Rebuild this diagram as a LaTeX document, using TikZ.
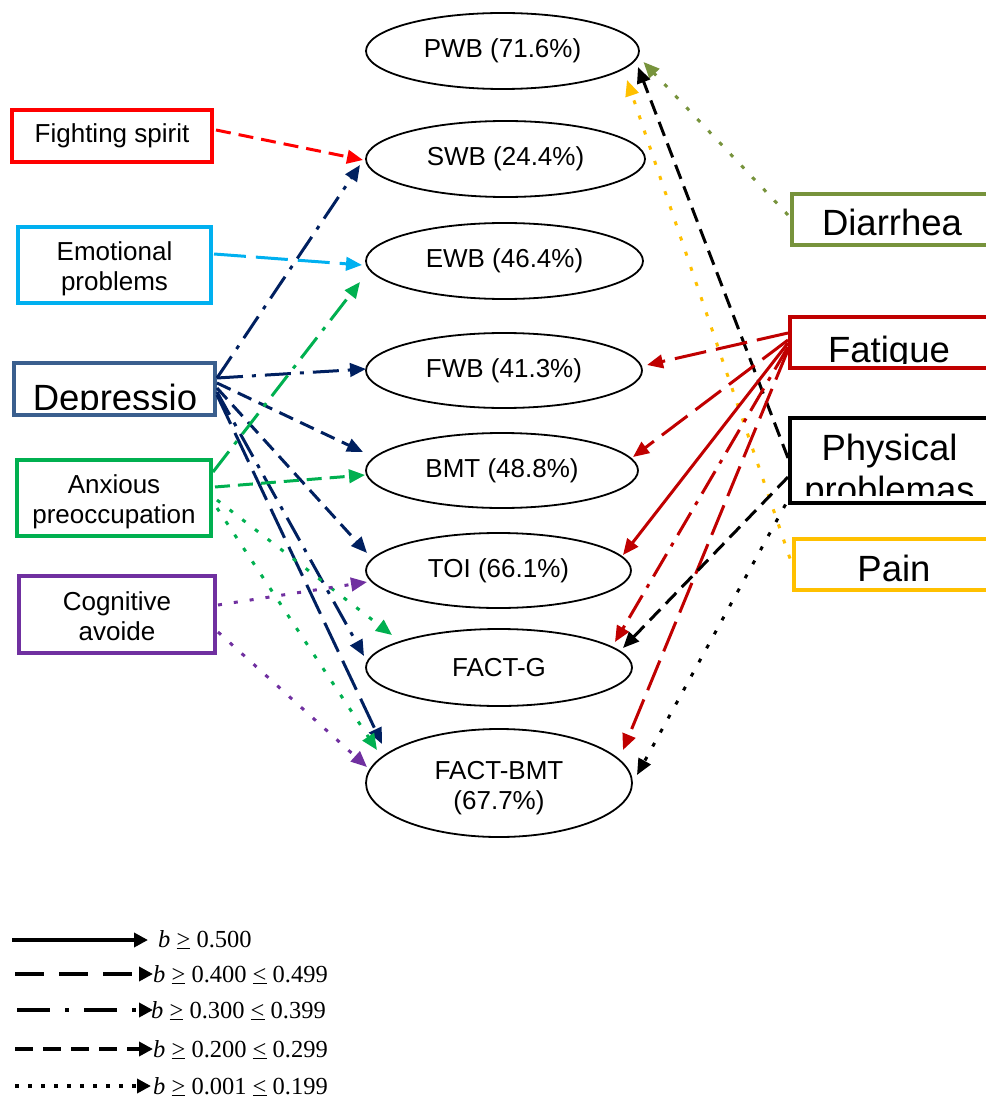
\documentclass[tikz,border=0pt]{standalone}
\usepackage{fontspec}
\setmainfont{Liberation Sans}
\newfontfamily\legendfont{Liberation Serif}
\usetikzlibrary{arrows.meta,calc,shapes.geometric}
\definecolor{cRed}{HTML}{FF0000}
\definecolor{cCyan}{HTML}{00B0F0}
\definecolor{cDepBox}{HTML}{3A5F8E}
\definecolor{cNavy}{HTML}{002060}
\definecolor{cGreen}{HTML}{00B050}
\definecolor{cPurple}{HTML}{7030A0}
\definecolor{cOlive}{HTML}{77933C}
\definecolor{cDarkRed}{HTML}{C00000}
\definecolor{cGold}{HTML}{FFC000}
\newcommand{\smallfnt}{\fontsize{26}{30}\selectfont}
\newcommand{\bigfnt}{\fontsize{36.5}{42}\selectfont}
\newcommand{\myge}{\underline{>}}
\newcommand{\myle}{\underline{<}}
\tikzset{
  ell/.style={draw, line width=1.8pt, ellipse, inner sep=0pt, font=\smallfnt, align=center},
  box/.style={draw, line width=4.5pt, rectangle, inner sep=0pt, font=\smallfnt, align=center},
  boxtext/.style={anchor=base, inner sep=0pt, font=\smallfnt},
  con/.style={line width=3pt, -{Triangle[length=16pt,width=13.5pt]}},
  pdot/.style={dash pattern=on 4pt off 12pt},
  pdash/.style={dash pattern=on 15pt off 8pt},
  pdashdot/.style={dash pattern=on 26pt off 9pt on 4pt off 9pt},
  plong/.style={dash pattern=on 32pt off 10pt},
  legline/.style={line width=4pt, -{Triangle[length=14pt,width=14pt]}},
  legtext/.style={anchor=base west, inner sep=0pt, font=\legendfont\fontsize{24.5}{28}\selectfont},
}
\begin{document}
\begin{tikzpicture}[x=1pt,y=-1pt]
\useasboundingbox (0,0) rectangle (985,1099);

% ellipses
\node[ell, minimum width=273pt, minimum height=76pt] (pwb) at (502.5,51) {PWB (71.6\%)};
\node[ell, minimum width=279pt, minimum height=76pt] (swb) at (505.5,159) {SWB (24.4\%)};
\node[ell, minimum width=277pt, minimum height=76pt] (ewb) at (504.5,261) {EWB (46.4\%)};
\node[ell, minimum width=276pt, minimum height=75pt] (fwb) at (504,370.5) {FWB (41.3\%)};
\node[ell, minimum width=272pt, minimum height=75pt] (bmt) at (502,470.5) {BMT (48.8\%)};
\node[ell, minimum width=265pt, minimum height=75pt] (toi) at (498.5,570.5) {TOI (66.1\%)};
\node[ell, minimum width=266pt, minimum height=77pt] (fg) at (499,667.5) {FACT-G};
\node[ell, minimum width=266pt, minimum height=108pt] (fbmt) at (499,783) {};
\node[boxtext] (fbmt1) at (499,779) {FACT-BMT};
\node[boxtext] (fbmt2) at (499,809) {(67.7\%)};

% left boxes
\node[box, draw=cRed, minimum width=200pt, minimum height=52pt] (fs) at (112,136) {Fighting spirit};
\node[box, draw=cCyan, minimum width=193pt, minimum height=76pt] (ep) at (114.5,265) {};
\node[boxtext] (ept1) at (114.5,260) {Emotional};
\node[boxtext] (ept2) at (114.5,290) {problems};
\node[box, draw=cDepBox, minimum width=201pt, minimum height=52pt] (dep) at (114.5,389) {};
\begin{scope}
  \clip (dep.north west) rectangle ($(dep.south east)+(0,-8)$);
  \node[anchor=base, inner sep=0pt, font=\bigfnt] (deptxt) at ($(dep.south)+(0.5,-7)$) {Depressio};
\end{scope}
\node[box, draw=cGreen, minimum width=194pt, minimum height=76pt] (anx) at (114,498) {};
\node[boxtext] (anxt1) at (114,493) {Anxious};
\node[boxtext] (anxt2) at (114,523) {preoccupation};
\node[box, draw=cPurple, minimum width=196pt, minimum height=77pt] (cog) at (117,614.5) {};
\node[boxtext] (cogt1) at (117,610) {Cognitive};
\node[boxtext] (cogt2) at (117,640) {avoide};

% right boxes
\node[box, draw=cOlive, minimum width=200pt, minimum height=51pt] (dia) at (892,219.5) {};
\node[anchor=base, inner sep=0pt, font=\bigfnt] (diatxt) at (892,236) {Diarrhea};
\node[box, draw=cDarkRed, minimum width=198pt, minimum height=51pt] (fat) at (889,342.5) {};
\begin{scope}
  \clip (fat.north west) rectangle ($(fat.south east)+(0,-6.5)$);
  \node[anchor=base, inner sep=0pt, font=\bigfnt] (fattxt) at (889,362.5) {Fatigue};
\end{scope}
\node[box, draw=black, minimum width=199pt, minimum height=85pt] (phy) at (889.5,460.5) {};
\begin{scope}
  \clip (phy.north west) rectangle ($(phy.south east)+(0,-10)$);
  \node[anchor=base, inner sep=0pt, font=\bigfnt] (phytxt1) at (889.5,460) {Physical};
  \node[anchor=base, inner sep=0pt, font=\bigfnt] (phytxt2) at (889.5,502) {problemas};
\end{scope}
\node[box, draw=cGold, minimum width=200pt, minimum height=51pt] (pain) at (894,564.5) {};
\node[anchor=base, inner sep=0pt, font=\bigfnt] (paintxt) at (894,581) {Pain};

% left connectors
\draw[con, cRed, pdash] ($(fs)+(104,-6)$) -- ($(swb)+(-142.5,1)$);
\draw[con, cCyan, plong] ($(ep)+(99.5,-11)$) -- ($(ewb)+(-142.5,4)$);
\draw[con, cNavy, pdashdot] ($(dep)+(102.5,-11)$) -- ($(swb)+(-145.5,6)$);
\draw[con, cNavy, pdashdot] ($(dep)+(102.5,-11)$) -- ($(fwb)+(-138,-1.5)$);
\draw[con, cNavy, pdash] ($(dep)+(102.5,-6)$) -- ($(bmt)+(-139,-18.5)$);
\draw[con, cNavy, pdash] ($(dep)+(102.5,-1)$) -- ($(toi)+(-131.5,-17.5)$);
\draw[con, cNavy, pdashdot] ($(dep)+(102.5,3)$) -- ($(fg)+(-135,-11.5)$);
\draw[con, cNavy, plong] ($(dep)+(102.5,6)$) -- ($(fbmt)+(-117,-39)$);
\draw[con, cGreen, pdashdot] ($(anx)+(99,-26)$) -- ($(ewb)+(-144.5,21)$);
\draw[con, cGreen, pdash] ($(anx)+(101,-11)$) -- ($(bmt)+(-137,4.5)$);
\draw[con, cGreen, pdot] ($(anx)+(103,2)$) -- ($(fg)+(-107,-32.5)$);
\draw[con, cGreen, pdot] ($(anx)+(103,10)$) -- ($(fbmt)+(-122,-33)$);
\draw[con, cPurple, pdot] ($(cog)+(101,-9.5)$) -- ($(toi)+(-131.5,11.5)$);
\draw[con, cPurple, pdot] ($(cog)+(101,17.5)$) -- ($(fbmt)+(-132,-16)$);

% right connectors
\draw[con, cOlive, pdot] ($(dia)+(-104,-4.5)$) -- ($(pwb)+(141,11)$);
\draw[con, black, pdash] ($(phy)+(-101.5,-2.5)$) -- ($(pwb)+(135.5,16)$);
\draw[con, cGold, pdot] ($(pain)+(-104,-6)$) -- ($(pwb)+(124.5,29)$);
\draw[con, cDarkRed, plong] ($(fat)+(-101,-9.5)$) -- ($(fwb)+(143,-5.5)$);
\draw[con, cDarkRed, plong] ($(fat)+(-101,-2.5)$) -- ($(bmt)+(131,-13.5)$);
\draw[con, cDarkRed] ($(fat)+(-101,0.5)$) -- ($(toi)+(124.5,-15.5)$);
\draw[con, cDarkRed, pdashdot] ($(fat)+(-101,4.5)$) -- ($(fg)+(116,-25.5)$);
\draw[con, cDarkRed, plong] ($(fat)+(-101,7.5)$) -- ($(fbmt)+(124,-33)$);
\draw[con, black, pdash] ($(phy)+(-101.5,16.5)$) -- ($(fg)+(124,-19.5)$);
\draw[con, black, pdot] ($(phy)+(-104,44)$) -- ($(fbmt)+(138,-8)$);

% legend
\coordinate (la1) at (12,940);   \coordinate (lb1) at (148,940);
\coordinate (la2) at (15,974);   \coordinate (lb2) at (153,974);
\coordinate (la3) at (17,1010);  \coordinate (lb3) at (153,1010);
\coordinate (la4) at (15,1049);  \coordinate (lb4) at (153,1049);
\coordinate (la5) at (15,1086);  \coordinate (lb5) at (151,1086);
\draw[legline] (la1) -- (lb1);
\draw[legline, dash pattern=on 29pt off 15pt] (la2) -- (lb2);
\draw[legline, dash pattern=on 33pt off 15pt on 4pt off 15pt] (la3) -- (lb3);
\draw[legline, dash pattern=on 18pt off 10pt] (la4) -- (lb4);
\draw[legline, dash pattern=on 4pt off 9pt] (la5) -- (lb5);
\node[legtext] (lt1) at (158,947) {\textit{b} \myge\ 0.500};
\node[legtext] (lt2) at (153,982) {\textit{b} \myge\ 0.400 \myle\ 0.499};
\node[legtext] (lt3) at (151,1018) {\textit{b} \myge\ 0.300 \myle\ 0.399};
\node[legtext] (lt4) at (153,1057) {\textit{b} \myge\ 0.200 \myle\ 0.299};
\node[legtext] (lt5) at (153,1094) {\textit{b} \myge\ 0.001 \myle\ 0.199};
\end{tikzpicture}
\end{document}
